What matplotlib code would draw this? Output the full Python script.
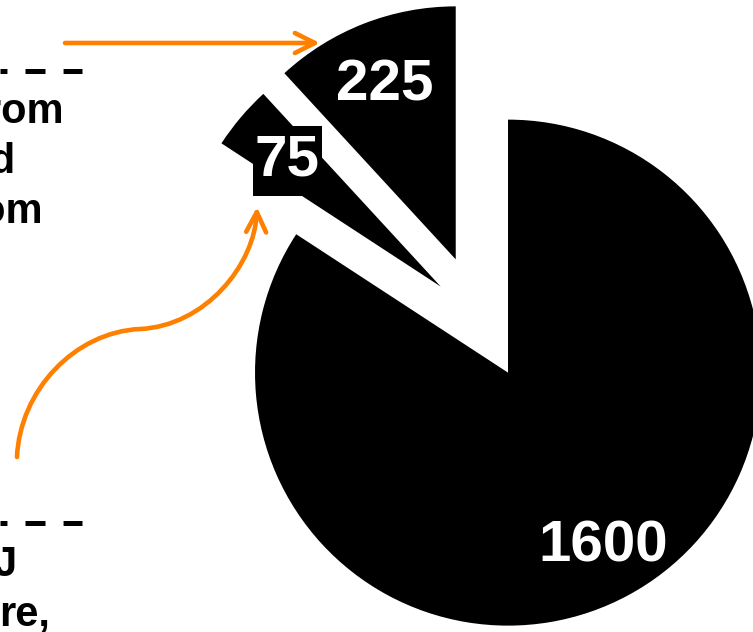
import numpy as np
import matplotlib
matplotlib.use("Agg")
import matplotlib.pyplot as plt
from matplotlib.patches import FancyArrowPatch, Rectangle
from matplotlib.path import Path

# pie data
values = [1600, 75, 225]
explode = [0.241, 0.198, 0.253]   # fraction of the radius
total = sum(values)

# left-hand text (cut off by the left edge in the original)
top_lines = ["from", "and", "from"]
top_right = [64, 16, 43]
bottom_lines = ["kJ", "re,"]
bottom_right = [17, 50]

W, H = 753, 632
R = 253
orange = "#FF8000"

fig = plt.figure(figsize=(W / 100, H / 100), dpi=100)
ax = fig.add_axes([0, 0, 1, 1])


def Y(y):
    # picture rows -> data y
    return H - y


# pie's explode is in data units, so scale by the radius
wedges, texts, autotexts = ax.pie(
    values, explode=[e * R for e in explode], startangle=90,
    counterclock=False, center=(479, Y(319)), radius=R,
    colors=["black"] * 3, wedgeprops=dict(linewidth=0),
    autopct=lambda p: f"{p * total / 100:.0f}", pctdistance=0.77,
    textprops=dict(color="white", fontsize=42, fontweight="bold",
                   family="Liberation Sans"))
wedges[1].set_radius(262)

# small nudges of the value labels
nudge = [(2, -3), (-5, 0), (0, -8)]
for t, (dx, dy) in zip(autotexts, nudge):
    x, y = t.get_position()
    t.set_position((x + dx, y + dy))

ax.set_xlim(0, W)
ax.set_ylim(0, H)
ax.set_aspect("equal")
ax.axis("off")

# black box behind the "75" label
fig.canvas.draw()
bb = autotexts[1].get_window_extent().transformed(ax.transData.inverted())
ax.add_patch(Rectangle((bb.x0 - 2, bb.y0 - 8), bb.width + 4, bb.height + 16,
                       fc="black", ec="none", zorder=2))

# dashed separators + text
plt.rcParams["lines.scale_dashes"] = False
for yy in (71, 523):
    ax.plot([0, 82], [Y(yy), Y(yy)], color="black", lw=3.6,
            linestyle=(9.4, (14.4, 13.0)), solid_capstyle="butt",
            dash_capstyle="butt")

for i, (s, x) in enumerate(zip(top_lines, top_right)):
    ax.text(x, Y(123 + 50 * i), s, ha="right", va="baseline", fontsize=30,
            fontweight="bold", family="Liberation Sans", color="black")
for i, (s, x) in enumerate(zip(bottom_lines, bottom_right)):
    ax.text(x, Y(576 + 50 * i), s, ha="right", va="baseline", fontsize=30,
            fontweight="bold", family="Liberation Sans", color="black")

# orange arrows
arr = FancyArrowPatch(posA=(65, Y(43)), posB=(320, Y(43)),
                      arrowstyle="->,head_length=0.4,head_width=0.2",
                      mutation_scale=36, lw=3.3, color=orange,
                      shrinkA=0, shrinkB=0)
ax.add_patch(arr)

pts = [(17, 457), (20, 390), (75, 332), (140, 329),
       (205, 326), (255, 265), (257, 207)]
verts = [(x, Y(y)) for x, y in pts]
codes = [Path.MOVETO] + [Path.CURVE4] * 6
curve = FancyArrowPatch(path=Path(verts, codes),
                        arrowstyle="->,head_length=0.4,head_width=0.2",
                        mutation_scale=36, lw=3.3, color=orange)
ax.add_patch(curve)

fig.savefig("out.png", dpi=100)
